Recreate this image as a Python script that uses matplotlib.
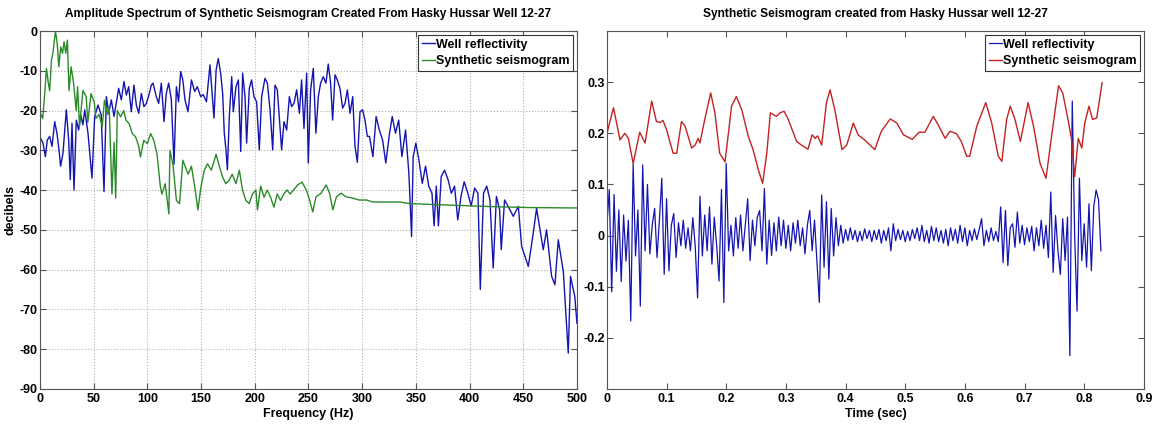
import numpy as np
import matplotlib.pyplot as plt

plt.rcParams['font.family'] = ['Liberation Sans', 'DejaVu Sans']
plt.rcParams['font.weight'] = 'bold'
plt.rcParams['axes.unicode_minus'] = False

# amplitude spectrum of the well reflectivity (Hz, dB)
refl_freq = [0.6, 2.8, 5, 6.8, 9, 11.2, 13.7, 15.8, 17.7, 19.2, 21.4, 24.5, 26.7, 28.2, 29.8,
             31.7, 33.8, 36, 37.9, 40, 41.6, 44.7, 48.4, 50.9, 54, 57, 59.6, 61.8, 64, 66.4,
             68.9, 71, 73.2, 75.7, 78.2, 80.4, 82.6, 85, 87.5, 89.7, 91.9, 94.4, 96.8, 99,
             101, 103.7, 105.2, 108.3, 110.5, 113, 115.5, 117.6, 119.8, 122.3, 124.8, 127,
             129, 131, 133, 135, 137.8, 141, 144, 146.5, 149.6, 152, 155, 158.3, 159.8, 162,
             164, 166, 168.2, 170.1, 171.6, 173.2, 174.5, 176.3, 178.5, 180, 182.5, 184.7,
             186.9, 188.7, 190.9, 192.4, 194.9, 197, 199.2, 201.7, 204.2, 206.4, 209.5, 211.7,
             214.2, 216.7, 218.8, 221, 223.5, 225, 227.2, 229.7, 232.2, 234.3, 236.5, 239,
             241.5, 243.6, 245.8, 248.3, 249.8, 252, 254.5, 256.9, 259.2, 261.3, 263.8, 266.3,
             268.4, 270.6, 272.5, 274.7, 276.8, 279.3, 281.8, 284, 286.2, 288.7, 291.2, 293.3,
             295.5, 298, 300.4, 302.6, 304.8, 306.8, 310, 313, 316, 319, 322, 325.5, 328, 331,
             334, 337, 340.4, 343.5, 346, 347.5, 350, 352.8, 356, 359, 362, 365, 367, 369, 371,
             373.6, 376.7, 380, 383, 386, 389, 392, 395, 398.4, 401.5, 404.7, 407.8, 410, 413,
             416, 419, 422, 425, 428, 429.5, 432.6, 435.7, 440.7, 445.4, 448.5, 454.7, 459.3,
             462.4, 468.6, 471.7, 476.4, 479.5, 482.6, 487.3, 491.9, 494, 498, 500]
refl_db = [-27, -28.2, -31.6, -27.4, -26.5, -29, -22.8, -25.7, -29.9, -34, -30.7, -19.8, -27.4,
           -37.4, -23.2, -40, -22.4, -24.9, -21.1, -23.6, -19.8, -25.7, -37, -21.5, -18.6,
           -21.1, -40.4, -16.5, -20.7, -17.3, -21.5, -18.2, -14.4, -17.3, -12.7, -16.1, -14,
           -20.3, -13.6, -18.6, -20.7, -15.7, -19, -18.2, -16.5, -13.6, -13.1, -16.5, -18.2,
           -13.1, -22.8, -15.7, -13.1, -17.3, -33.5, -14, -17.8, -10.2, -12.3, -17.3, -20.3,
           -12.3, -15.2, -14, -16.5, -16, -17.8, -8.5, -14, -21.9, -9.8, -6.9, -10.6, -15.7,
           -25.7, -29.9, -34.9, -21.5, -11.5, -20.3, -14, -12.3, -30.3, -10.6, -16.5, -28.2,
           -14.4, -12.3, -16.5, -17.8, -29.9, -16.5, -11.9, -13.1, -19.8, -29.9, -13.6, -14.8,
           -24, -29.9, -22.8, -24.9, -16.5, -19, -18.2, -14.8, -20.7, -12.3, -24.5, -10.6,
           -33.2, -14.8, -9.4, -25.7, -16.5, -13.1, -11.5, -13.1, -8.3, -13.1, -22.4, -11,
           -12.3, -14.4, -19.4, -18.2, -14.8, -20.7, -16.5, -29, -33, -20.3, -19.8, -22.4,
           -26.5, -26.5, -31.6, -21.5, -24.9, -27.4, -33.2, -25.7, -21.5, -25.7, -22.4, -31.6,
           -24.9, -35.8, -51.7, -31.6, -28.2, -32.4, -38.3, -34, -39, -40.8, -49, -39, -49,
           -36.6, -35, -37.4, -40.8, -39, -47.5, -41.6, -37.9, -40.8, -44, -39.5, -40.8, -65,
           -40.8, -39, -42.5, -59.6, -41.6, -45, -55, -42.5, -44, -46.6, -44.1, -54.2, -59.2,
           -50.8, -44.6, -55, -50, -61.7, -63.8, -52.5, -60.5, -81, -61.7, -66.8, -73.5]

# amplitude spectrum of the synthetic seismogram (Hz, dB)
synth_freq = [0.6, 2.5, 4.6, 6, 7.7, 9, 10.7, 12, 14.4, 16, 17.5, 19.3, 21, 22.4, 24, 25.5, 27,
              29, 31.3, 33.7, 35, 36.8, 40, 43, 44.5, 47.5, 50.6, 52, 55, 58, 60, 63, 64.4, 67,
              69, 70.5, 72, 75, 78, 80, 83, 86, 89, 92, 93.5, 96.6, 100, 103, 106, 109, 112,
              113.5, 116.6, 120, 121, 124, 127, 130, 133, 138, 141, 144, 147, 150, 153, 156,
              159.5, 164, 167, 170, 173, 176, 179, 182.5, 185.6, 188.6, 191.7, 194.8, 197.8,
              201, 202.5, 205.5, 208.6, 211.7, 214.7, 217.8, 220.9, 224, 227, 230, 233, 236,
              240, 244, 248, 251, 254, 257, 261.7, 266.5, 269.6, 272.7, 276, 280.4, 285, 291,
              297, 304, 310, 316, 322, 329, 335, 344, 363, 394, 425, 456, 500]
synth_db = [-20.8, -22, -15, -9.4, -13, -15, -7.3, -5.6, 0, -3, -9, -4, -5.6, -2.7, -5.6, -2.3,
            -15, -9, -13.2, -20, -14, -24, -15, -16.5, -23, -15.7, -18, -22, -21, -24, -17.4,
            -21, -19, -41, -28, -42, -20, -21.6, -20, -22.4, -23.3, -25.8, -26.6, -29, -31.7,
            -27.5, -28.3, -25.8, -27.5, -31, -39, -41, -38.4, -46, -30, -34, -42.6, -43.4,
            -32.5, -36, -34, -39, -45, -39, -35, -33.4, -35, -31, -34, -36.7, -38.4, -37.6,
            -36, -38.4, -35, -40, -42.6, -43.4, -41, -40, -45, -39, -41.8, -40, -41.8, -44.3,
            -41, -42.6, -41, -40, -41, -40, -38.7, -38, -40, -42.5, -45.5, -41.7, -40.8, -38.7,
            -40.8, -45, -41.7, -40.8, -41.7, -42, -42.5, -42.5, -43, -43, -43, -43, -43, -43.4,
            -43.6, -43.9, -44.2, -44.4, -44.5]

# well reflectivity trace, one sample every 4 ms
refl_trace = [0.02, 0.09, -0.11, 0.08, -0.07, 0.05, -0.09, 0.04, -0.05, 0.03,
              -0.167, 0.14, -0.04, 0.05, -0.138, 0.138, -0.03, 0.10, -0.036, 0.02,
              0.053, -0.043, 0.03, 0.112, -0.076, 0.072, -0.069, 0.02, 0.043, -0.043,
              0.025, -0.02, 0.03, -0.025, 0.015, -0.03, 0.035, -0.02, -0.122, 0.077,
              -0.04, 0.04, -0.03, 0.056, -0.056, 0.036, -0.02, -0.089, 0.09, -0.131,
              0.141, -0.03, 0.02, -0.04, 0.035, -0.025, 0.04, -0.03, 0.02, 0.072,
              -0.049, 0.03, -0.02, 0.035, 0.049, -0.03, 0.092, -0.056, 0.03, -0.039,
              0.025, -0.03, 0.036, -0.02, 0.03, -0.025, 0.02, -0.03, 0.025, -0.015,
              0.03, -0.02, 0.015, -0.036, 0.02, 0.049, -0.03, 0.03, -0.049, -0.131,
              0.079, -0.062, 0.066, -0.085, 0.053, -0.04, 0.035, -0.02, 0.02, -0.015,
              0.012, -0.01, 0.015, -0.008, 0.01, -0.012, 0.008, -0.01, 0.013, -0.006,
              0.01, -0.012, 0.01, -0.008, 0.012, -0.015, 0.01, -0.01, 0.015, -0.03,
              0.023, -0.01, 0.012, -0.008, 0.01, -0.012, 0.008, -0.01, 0.012, -0.006,
              0.015, -0.01, 0.02, -0.012, 0.01, -0.015, 0.018, -0.01, 0.015, -0.012,
              0.01, -0.015, 0.012, -0.02, 0.015, -0.01, 0.012, -0.015, 0.02, -0.012,
              0.015, -0.02, 0.01, -0.01, 0.013, -0.008, 0.012, 0.033, -0.02, 0.01,
              -0.012, 0.015, -0.01, 0.008, -0.012, 0.056, -0.053, 0.049, -0.059, 0.015,
              0.023, -0.023, 0.046, -0.015, 0.02, -0.018, 0.015, -0.012, 0.018, -0.03,
              0.015, -0.02, 0.03, -0.025, 0.02, -0.043, 0.085, -0.072, 0.039, -0.03,
              -0.076, 0.033, -0.049, 0.036, -0.235, 0.263, 0.0, -0.148, 0.112, -0.049,
              0.023, -0.062, 0.062, -0.069, 0.056, 0.089, 0.07, -0.03]
trace_dt = 0.004

# synthetic seismogram trace (shifted up), sec / amplitude
seis_time = [0.001, 0.011, 0.022, 0.030, 0.036, 0.044, 0.055, 0.064, 0.075, 0.083, 0.089,
             0.094, 0.100, 0.111, 0.117, 0.125, 0.131, 0.142, 0.148, 0.153, 0.156, 0.164,
             0.174, 0.181, 0.189, 0.198, 0.209, 0.217, 0.226, 0.237, 0.245, 0.254, 0.261,
             0.268, 0.274, 0.284, 0.290, 0.297, 0.304, 0.318, 0.326, 0.337, 0.344, 0.349,
             0.353, 0.360, 0.368, 0.374, 0.382, 0.394, 0.402, 0.413, 0.421, 0.432, 0.449,
             0.460, 0.475, 0.486, 0.497, 0.512, 0.523, 0.533, 0.547, 0.555, 0.567, 0.575,
             0.586, 0.594, 0.603, 0.608, 0.620, 0.635, 0.645, 0.656, 0.662, 0.670, 0.676,
             0.684, 0.693, 0.706, 0.715, 0.726, 0.736, 0.746, 0.757, 0.764, 0.774, 0.779,
             0.784, 0.790, 0.796, 0.801, 0.808, 0.814, 0.821, 0.825, 0.830]
seis_amp = [0.204, 0.250, 0.187, 0.200, 0.190, 0.141, 0.202, 0.181, 0.263, 0.223, 0.221,
            0.225, 0.207, 0.161, 0.161, 0.223, 0.214, 0.171, 0.177, 0.190, 0.181, 0.227,
            0.279, 0.240, 0.161, 0.144, 0.253, 0.272, 0.246, 0.194, 0.168, 0.128, 0.102,
            0.161, 0.240, 0.233, 0.240, 0.243, 0.227, 0.184, 0.177, 0.169, 0.197, 0.190,
            0.195, 0.177, 0.260, 0.285, 0.246, 0.168, 0.177, 0.220, 0.197, 0.187, 0.168,
            0.204, 0.228, 0.220, 0.197, 0.188, 0.202, 0.202, 0.233, 0.217, 0.190, 0.204,
            0.199, 0.184, 0.155, 0.155, 0.214, 0.260, 0.220, 0.155, 0.145, 0.227, 0.253,
            0.227, 0.184, 0.260, 0.214, 0.141, 0.112, 0.200, 0.293, 0.279, 0.220, 0.187,
            0.115, 0.190, 0.171, 0.220, 0.253, 0.227, 0.230, 0.260, 0.299]

blue = '#1414b0'
green = '#2a8a2a'
red = '#c42222'

fig = plt.figure(figsize=(11.56, 4.25), dpi=100)
ax1 = fig.add_axes([0.0346, 0.085, 0.4645, 0.842])
ax2 = fig.add_axes([0.525, 0.085, 0.4645, 0.842])

ax1.plot(refl_freq, refl_db, color=blue, lw=1.0, label='Well reflectivity')
ax1.plot(synth_freq, synth_db, color=green, lw=1.0, label='Synthetic seismogram')
ax1.set_xlim(0, 500)
ax1.set_ylim(-90, 0)
ax1.set_xticks(np.arange(0, 501, 50))
ax1.set_yticks(np.arange(-90, 1, 10))
ax1.grid(True, linestyle=':', color='#b0b0b0', lw=0.8)
ax1.set_xlabel('Frequency (Hz)', fontsize=9, fontweight='bold', labelpad=2)
ax1.set_ylabel('decibels', fontsize=9, fontweight='bold')
ax1.yaxis.set_label_coords(-0.043, 0.5)
ax1.set_title('Amplitude Spectrum of Synthetic Seismogram Created From Hasky Hussar Well 12-27',
              fontsize=8.6, fontweight='bold', pad=10)

t = np.arange(len(refl_trace)) * trace_dt
ax2.plot(t, refl_trace, color=blue, lw=0.9, label='Well reflectivity')
ax2.plot(seis_time, seis_amp, color=red, lw=1.0, label='Synthetic seismogram')
ax2.set_xlim(0, 0.9)
ax2.set_ylim(-0.3, 0.4)
ax2.set_xticks(np.arange(0, 0.91, 0.1))
ax2.set_xticklabels(['0'] + ['%.1f' % v for v in np.arange(0.1, 0.91, 0.1)])
ax2.set_yticks([-0.2, -0.1, 0, 0.1, 0.2, 0.3])
ax2.set_yticklabels(['-0.2', '-0.1', '0', '0.1', '0.2', '0.3'])
ax2.set_xlabel('Time (sec)', fontsize=9, fontweight='bold', labelpad=2)
ax2.set_title('Synthetic Seismogram created from Hasky Hussar well 12-27',
              fontsize=8.6, fontweight='bold', pad=10)

for ax in (ax1, ax2):
    ax.tick_params(direction='in', top=True, right=True, labelsize=9, length=4,
                   color='#555555')
    ax.tick_params(axis='y', pad=1.5)
    ax.tick_params(axis='x', pad=3)
    for lab in ax.get_xticklabels() + ax.get_yticklabels():
        lab.set_fontweight('bold')
    for sp in ax.spines.values():
        sp.set_color('#555555')
    leg = ax.legend(loc='upper right', fontsize=9, handlelength=1.0, handletextpad=0.1,
                    borderpad=0.3, labelspacing=0.35, fancybox=False, framealpha=1,
                    borderaxespad=0.3)
    leg.get_frame().set_edgecolor('#333333')
    leg.get_frame().set_linewidth(0.8)
    for txt in leg.get_texts():
        txt.set_fontweight('bold')

fig.savefig('out.png', dpi=100)
